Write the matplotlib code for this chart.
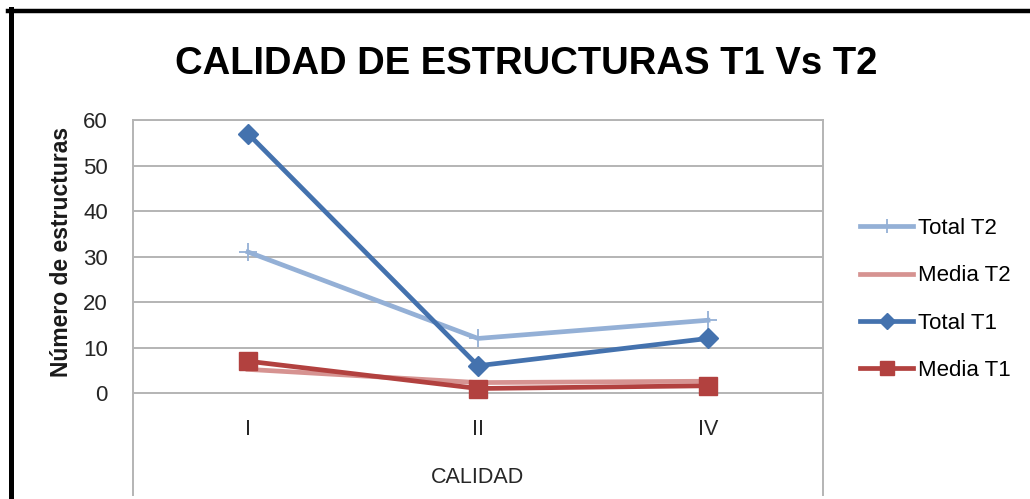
import matplotlib.pyplot as plt
from matplotlib.lines import Line2D

# --- data ---
categories = ["I", "II", "IV"]
total_t2 = [31, 12, 16]
media_t2 = [5.2, 2.3, 2.6]
total_t1 = [57, 6, 12]
media_t1 = [7, 1, 1.6]
y_ticks = [0, 10, 20, 30, 40, 50, 60]

plt.rcParams['font.family'] = ['Liberation Sans', 'DejaVu Sans']

fig = plt.figure(figsize=(10.30, 4.99), dpi=100)
ax = fig.add_axes([133 / 1030, 4 / 499, 690 / 1030, 375 / 499])

x = range(len(categories))

# plot order matches legend order (last one on top)
ax.plot(x, total_t2, color='#94B0D6', linewidth=3.4, marker='+',
        markersize=13, markeredgewidth=1.3, label='Total T2', zorder=3)
ax.plot(x, media_t2, color='#D69391', linewidth=3.4, label='Media T2', zorder=3)
ax.plot(x, total_t1, color='#4472AE', linewidth=3.4, marker='D',
        markersize=10, label='Total T1', zorder=4)
ax.plot(x, media_t1, color='#B2413F', linewidth=3.4, marker='s',
        markersize=13, label='Media T1', zorder=4)

ax.set_xlim(-0.5, len(categories) - 0.5)
ax.set_ylim(-22.4, 60)
ax.set_yticks(y_ticks)
ax.set_xticks([])
ax.tick_params(axis='y', length=0, pad=18, labelsize=16, labelcolor='#262626')
ax.yaxis.grid(True, color='#A0A0A0', linewidth=1.1)
ax.set_axisbelow(True)

for side in ['left', 'right', 'top']:
    ax.spines[side].set_color('#B4B4B4')
    ax.spines[side].set_linewidth(1.4)
ax.spines['bottom'].set_visible(False)

# category labels sit inside the plot box, below zero
for i, cat in enumerate(categories):
    ax.text(i, -8.1, cat, ha='center', va='center', fontsize=15.5, color='#262626')
ax.text(1, -18.6, 'CALIDAD', ha='center', va='center', fontsize=15.5, color='#262626')

fig.text(62 / 1030, 1 - 252 / 499, 'Número de estructuras', rotation=90,
         ha='center', va='center', fontsize=16.5, fontweight='bold', color='#1a1a1a')

fig.text(526 / 1030, 1 - 64 / 499, 'CALIDAD DE ESTRUCTURAS T1 Vs T2',
         ha='center', va='center', fontsize=27.5, fontweight='bold', color='black')

fig.legend(loc='center left', bbox_to_anchor=(860 / 1030, 1 - 299.5 / 499),
           frameon=False, fontsize=16, handlelength=2.4, handletextpad=0.2,
           labelspacing=1.18, borderpad=0, borderaxespad=0, markerscale=0.8)

# black frame around the image (left and top edges)
fig.add_artist(Line2D([10.8 / 1030, 10.8 / 1030], [0, 1 - 9 / 499],
                      transform=fig.transFigure, color='black', linewidth=3.6))
fig.add_artist(Line2D([8.3 / 1030, 1], [1 - 11 / 499, 1 - 11 / 499],
                      transform=fig.transFigure, color='black', linewidth=3.2))

fig.savefig('out.png', dpi=100)
